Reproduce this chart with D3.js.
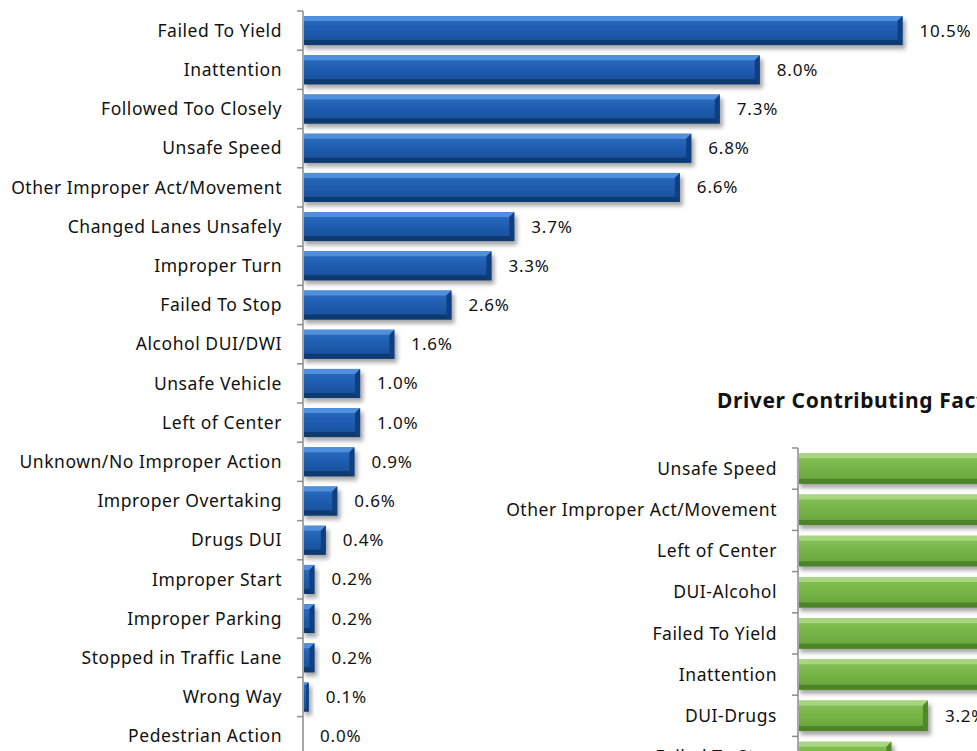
<!DOCTYPE html>
<html>
<head>
<meta charset="utf-8">
<script src="https://cdn.jsdelivr.net/npm/d3@7"></script>
<style>
  body { margin: 0; background: #fff; }
  text { font-family: "Noto Sans", "Open Sans", sans-serif; fill: #111; }
</style>
</head>
<body>
<div id="chart"></div>
<script>
// Data
let factors = ["Failed To Yield", "Inattention", "Followed Too Closely", "Unsafe Speed",
  "Other Improper Act/Movement", "Changed Lanes Unsafely", "Improper Turn", "Failed To Stop",
  "Alcohol DUI/DWI", "Unsafe Vehicle", "Left of Center", "Unknown/No Improper Action",
  "Improper Overtaking", "Drugs DUI", "Improper Start", "Improper Parking",
  "Stopped in Traffic Lane", "Wrong Way", "Pedestrian Action"];
let shares = [10.5, 8.0, 7.3, 6.8, 6.6, 3.7, 3.3, 2.6, 1.6, 1.0, 1.0, 0.9, 0.6, 0.4, 0.2, 0.2, 0.2, 0.1, 0.0];

// second chart (cropped on the right in the reference, long bars estimated)
let driverTitle = "Driver Contributing Factors";
let driverFactors = ["Unsafe Speed", "Other Improper Act/Movement", "Left of Center", "DUI-Alcohol",
  "Failed To Yield", "Inattention", "DUI-Drugs", "Failed To Stop"];
let driverShares = [20.5, 15.2, 11.8, 9.6, 7.4, 6.1, 3.2, 2.3];

let w = 977, h = 751;
let svg = d3.select("#chart").append("svg").attr("width", w).attr("height", h);
let defs = svg.append("defs");

// gradients for the bevelled bars
function makeGrad(id, stops) {
  let g = defs.append("linearGradient").attr("id", id)
    .attr("x1", 0).attr("y1", 0).attr("x2", 0).attr("y2", 1);
  stops.forEach(s => g.append("stop").attr("offset", s[0]).attr("stop-color", s[1]));
}
makeGrad("blueBody", [[0, "#2d70c6"], [0.45, "#1f5eb1"], [1, "#174d96"]]);
makeGrad("greenBody", [[0, "#88c459"], [0.45, "#78b547"], [1, "#66a238"]]);
let shadow = defs.append("filter").attr("id", "shadow")
  .attr("x", "-20%").attr("y", "-20%").attr("width", "140%").attr("height", "160%");
shadow.append("feGaussianBlur").attr("stdDeviation", 2);

let pal = {
  blue: { body: "url(#blueBody)", top: "#4f8fdc", right: "#0f3f7e", bottom: "#0e3a72" },
  green: { body: "url(#greenBody)", top: "#a8d57f", right: "#4e8a2a", bottom: "#4d8429" }
};

function drawChart(g, cats, vals, opt) {
  let y = d3.scaleBand().domain(cats)
    .range([opt.top, opt.top + cats.length * opt.step])
    .paddingInner(0.26).paddingOuter(0.13);
  let x = d3.scaleLinear().domain([0, 1]).range([opt.left, opt.left + opt.perPct]);
  let c = pal[opt.color];
  let bh = y.bandwidth();

  let bars = g.selectAll(".bar").data(cats).enter().append("g").attr("class", "bar");
  bars.each(function(d, i) {
    let v = vals[i];
    if (v <= 0) return;
    let x0 = x(0) + 1, x1 = x(v), y0 = y(d), y1 = y(d) + bh;
    let bw = x1 - x0;
    let b = Math.min(5, bw / 2);
    let sel = d3.select(this);
    sel.append("rect").attr("x", x0 + 1).attr("y", y0 + 4).attr("width", bw + 2).attr("height", bh)
      .attr("fill", "#000").attr("opacity", 0.35).attr("filter", "url(#shadow)");
    sel.append("rect").attr("x", x0).attr("y", y0).attr("width", bw).attr("height", bh)
      .attr("fill", c.body);
    sel.append("polygon").attr("points", [[x0, y0], [x1, y0], [x1 - b, y0 + b], [x0, y0 + b]].join(" "))
      .attr("fill", c.top);
    sel.append("polygon").attr("points", [[x0, y1], [x1, y1], [x1 - b, y1 - b], [x0, y1 - b]].join(" "))
      .attr("fill", c.bottom);
    sel.append("polygon").attr("points", [[x1, y0], [x1, y1], [x1 - b, y1 - b], [x1 - b, y0 + b]].join(" "))
      .attr("fill", c.right);
  });

  // value labels
  g.selectAll(".val").data(cats).enter().append("text")
    .attr("x", (d, i) => x(vals[i]) + 17)
    .attr("y", d => y(d) + bh / 2)
    .attr("dy", "0.35em")
    .attr("font-size", "17px")
    .attr("letter-spacing", "0.8px")
    .text((d, i) => vals[i].toFixed(1) + "%");

  // category labels
  g.selectAll(".cat").data(cats).enter().append("text")
    .attr("x", opt.left - 21)
    .attr("y", d => y(d) + bh / 2)
    .attr("dy", "0.35em")
    .attr("text-anchor", "end")
    .attr("font-size", "17.5px")
    .attr("letter-spacing", "0.55px")
    .text(d => d);

  // axis line with ticks between categories
  let axisCol = "#8c8c8c";
  g.append("line").attr("x1", opt.left).attr("x2", opt.left)
    .attr("y1", opt.top).attr("y2", opt.top + cats.length * opt.step)
    .attr("stroke", axisCol).attr("stroke-width", 1.5);
  g.selectAll(".tick").data(d3.range(cats.length + 1)).enter().append("line")
    .attr("x1", opt.left - 6).attr("x2", opt.left)
    .attr("y1", i => opt.top + i * opt.step).attr("y2", i => opt.top + i * opt.step)
    .attr("stroke", axisCol).attr("stroke-width", 1.5);
}

drawChart(svg.append("g"), factors, shares,
  { top: 11, step: 39.2, left: 303, perPct: 57.1, color: "blue" });

// second chart sits over the lower right corner
let g2 = svg.append("g");
g2.append("rect").attr("x", 480).attr("y", 370).attr("width", 497).attr("height", 381).attr("fill", "#fff");
g2.append("text").attr("x", 717).attr("y", 408)
  .attr("font-size", "21px").attr("font-weight", "bold")
  .attr("letter-spacing", "0.6px")
  .text(driverTitle);
drawChart(g2, driverFactors, driverShares,
  { top: 448, step: 41.2, left: 798, perPct: 40.6, color: "green" });
</script>
</body>
</html>
